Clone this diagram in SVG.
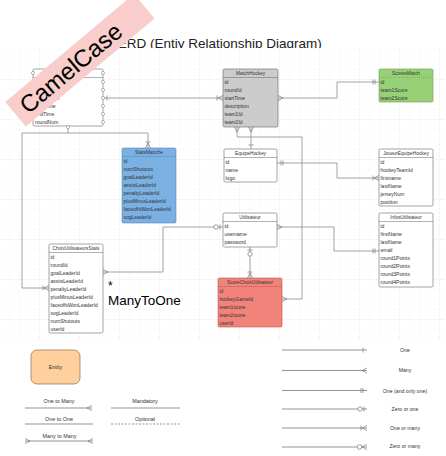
<svg xmlns="http://www.w3.org/2000/svg" width="446" height="456" viewBox="0 0 446 456">
<style>
text{font-family:"Liberation Sans",Arial,sans-serif;fill:#333}
.hd{font-size:4.8px;text-anchor:middle}
.rw{font-size:5px}
.tb{stroke:#666;stroke-width:0.6}
.sep{stroke:#666;stroke-width:0.5}
.cn{fill:none;stroke:#8c8c8c;stroke-width:0.8}
.mk{fill:none;stroke:#777;stroke-width:0.7}
.lg{fill:none;stroke:#666;stroke-width:0.7}
.lt{font-size:5.4px;text-anchor:middle}
.hc{fill:#fff;stroke:#777;stroke-width:0.5}
</style>
<defs>
<pattern id="g1" width="10" height="10" patternUnits="userSpaceOnUse"><path d="M10,0V10M0,10H10" fill="none" stroke="#e3e3e3" stroke-width="0.5" stroke-dasharray="1,1"/></pattern>
<pattern id="g2" width="40" height="40" patternUnits="userSpaceOnUse"><rect width="40" height="40" fill="url(#g1)"/><path d="M40,0V40M0,40H40" fill="none" stroke="#d4d4d4" stroke-width="0.6" stroke-dasharray="1,1"/></pattern>
<marker id="many" markerUnits="userSpaceOnUse" orient="auto-start-reverse" refX="0" refY="0" markerWidth="10" markerHeight="10" style="overflow:visible"><path class="mk" d="M-5,0L0,-2.5M-5,0L0,2.5"/></marker>
<marker id="oneMany" markerUnits="userSpaceOnUse" orient="auto-start-reverse" refX="0" refY="0" markerWidth="10" markerHeight="10" style="overflow:visible"><path class="mk" d="M-5,0L0,-2.5M-5,0L0,2.5M-6,-2.5V2.5"/></marker>
<marker id="one" markerUnits="userSpaceOnUse" orient="auto-start-reverse" refX="0" refY="0" markerWidth="10" markerHeight="10" style="overflow:visible"><path class="mk" d="M-4,-2.5V2.5"/></marker>
<marker id="mandOne" markerUnits="userSpaceOnUse" orient="auto-start-reverse" refX="0" refY="0" markerWidth="10" markerHeight="10" style="overflow:visible"><path class="mk" d="M-4,-2.5V2.5M-6,-2.5V2.5"/></marker>
<marker id="zeroOne" markerUnits="userSpaceOnUse" orient="auto-start-reverse" refX="0" refY="0" markerWidth="12" markerHeight="10" style="overflow:visible"><path class="mk" d="M-3,-2.5V2.5"/><circle cx="-7" cy="0" r="2.2" fill="#fff" stroke="#777" stroke-width="0.7"/></marker>
<marker id="zeroMany" markerUnits="userSpaceOnUse" orient="auto-start-reverse" refX="0" refY="0" markerWidth="12" markerHeight="10" style="overflow:visible"><path class="mk" d="M-5,0L0,-2.5M-5,0L0,2.5"/><circle cx="-7.5" cy="0" r="2.3" fill="#fff" stroke="#777" stroke-width="0.7"/></marker>
</defs>
<rect width="446" height="456" fill="#fff"/>
<text x="117.7" y="48" style="font-size:13.5px;fill:#222">ERD (Entiy Relationship Diagram)</text>
<rect x="0" y="48" width="446" height="292" fill="#fff"/>
<rect x="0" y="48" width="446" height="292" fill="url(#g2)"/>

<g id="connectors">
<path class="cn" d="M103,98H223" marker-start="url(#one)" marker-end="url(#oneMany)"/>
<path class="cn" d="M278,98H337V82H379" marker-start="url(#many)" marker-end="url(#mandOne)"/>
<path class="cn" d="M251,127V149" marker-start="url(#many)" marker-end="url(#one)"/>
<path class="cn" d="M237,127V137H302V299H282" marker-start="url(#many)" marker-end="url(#many)"/>
<path class="cn" d="M68,127V133H148V148" marker-end="url(#oneMany)"/>
<path class="cn" d="M68,133H22V288H49" marker-end="url(#oneMany)"/>
<path class="cn" d="M277,163H337V178H379" marker-start="url(#mandOne)" marker-end="url(#oneMany)"/>
<path class="cn" d="M223,227H163V272H103" marker-start="url(#zeroOne)" marker-end="url(#many)"/>
<path class="cn" d="M277,227H334V251H379" marker-start="url(#many)" marker-end="url(#mandOne)"/>
<path class="cn" d="M250,247V278" marker-start="url(#zeroOne)" marker-end="url(#oneMany)"/>
</g>

<g id="Manche">
<rect class="tb" x="33" y="69" width="70" height="57" rx="1.5" fill="#fff"/>
<text class="hd" x="68" y="75.2">Manche</text>
<line class="sep" x1="33" y1="77.5" x2="103" y2="77.5"/>
<text class="rw" x="35" y="83.7">id</text>
<text class="rw" x="35" y="91.7">name</text>
<text class="rw" x="35" y="99.7">description</text>
<text class="rw" x="35" y="107.7">startTime</text>
<text class="rw" x="35" y="115.7">endTime</text>
<text class="rw" x="35" y="123.7">roundNum</text>
<circle class="hc" cx="33" cy="73" r="1.6"/>
<circle class="hc" cx="103" cy="73" r="1.6"/>
<circle class="hc" cx="103" cy="82" r="1.6"/>
<circle class="hc" cx="103" cy="90" r="1.6"/>
<circle class="hc" cx="103" cy="98" r="1.6"/>
<circle class="hc" cx="103" cy="106" r="1.6"/>
<circle class="hc" cx="103" cy="114" r="1.6"/>
<circle class="hc" cx="103" cy="122" r="1.6"/>
<circle class="hc" cx="68" cy="127" r="1.6"/>
</g>

<g id="MatchHockey">
<rect class="tb" x="223" y="69" width="55" height="58" rx="1.5" fill="#cccccc"/>
<text class="hd" x="250.5" y="75.2">MatchHockey</text>
<line class="sep" x1="223" y1="77.5" x2="278" y2="77.5"/>
<text class="rw" x="224.5" y="83.7">id</text>
<text class="rw" x="224.5" y="91.7">roundId</text>
<text class="rw" x="224.5" y="99.7">startTime</text>
<text class="rw" x="224.5" y="107.7">description</text>
<text class="rw" x="224.5" y="115.7">team1Id</text>
<text class="rw" x="224.5" y="123.7">team2Id</text>
</g>

<g id="ScoresMatch">
<rect class="tb" x="379" y="69" width="54" height="33" rx="1.5" fill="#97d077" style="stroke:#6a9a4a"/>
<text class="hd" x="406" y="75.2">ScoresMatch</text>
<line class="sep" x1="379" y1="77.5" x2="433" y2="77.5" stroke-dasharray="1,1" style="stroke:#6a9a4a"/>
<text class="rw" x="380.5" y="83.7">id</text>
<text class="rw" x="380.5" y="91.7">team1Score</text>
<text class="rw" x="380.5" y="99.7">team2Score</text>
</g>

<g id="StatsManche">
<rect class="tb" x="122" y="148" width="54" height="75" rx="1.5" fill="#7ab0e2" style="stroke:#5a88b8"/>
<text class="hd" x="149" y="154.2">StatsManche</text>
<line class="sep" x1="122" y1="156.5" x2="176" y2="156.5" style="stroke:#5a88b8"/>
<text class="rw" x="123.5" y="162.7">id</text>
<text class="rw" x="123.5" y="170.7">numShutouts</text>
<text class="rw" x="123.5" y="178.7">goalLeaderId</text>
<text class="rw" x="123.5" y="186.7">assistLeaderId</text>
<text class="rw" x="123.5" y="194.7">penaltyLeaderId</text>
<text class="rw" x="123.5" y="202.7">plusMinusLeaderId</text>
<text class="rw" x="123.5" y="210.7">faceoffsWonLeaderId</text>
<text class="rw" x="123.5" y="218.7">sogLeaderId</text>
</g>

<g id="EquipeHockey">
<rect class="tb" x="224" y="149" width="53" height="33" rx="1.5" fill="#fff"/>
<text class="hd" x="250.5" y="155.2">EquipeHockey</text>
<line class="sep" x1="224" y1="157.5" x2="277" y2="157.5"/>
<text class="rw" x="225.5" y="163.7">id</text>
<text class="rw" x="225.5" y="171.7">name</text>
<text class="rw" x="225.5" y="179.7">logo</text>
</g>

<g id="JoueurEquipeHockey">
<rect class="tb" x="379" y="149" width="54" height="57" rx="1.5" fill="#fff"/>
<text class="hd" x="406" y="155.2">JoueurEquipeHockey</text>
<line class="sep" x1="379" y1="157.5" x2="433" y2="157.5"/>
<text class="rw" x="380.5" y="163.7">id</text>
<text class="rw" x="380.5" y="171.7">hockeyTeamId</text>
<text class="rw" x="380.5" y="179.7">firstname</text>
<text class="rw" x="380.5" y="187.7">lastName</text>
<text class="rw" x="380.5" y="195.7">jerseyNum</text>
<text class="rw" x="380.5" y="203.7">position</text>
</g>

<g id="Utilisateur">
<rect class="tb" x="223" y="213" width="54" height="34" rx="1.5" fill="#fff"/>
<text class="hd" x="250" y="219.2">Utilisateur</text>
<line class="sep" x1="223" y1="221.5" x2="277" y2="221.5"/>
<text class="rw" x="224.5" y="227.7">id</text>
<text class="rw" x="224.5" y="235.7">username</text>
<text class="rw" x="224.5" y="243.7">password</text>
</g>

<g id="InfosUtilisateur">
<rect class="tb" x="379" y="213" width="54" height="74" rx="1.5" fill="#fff"/>
<text class="hd" x="406" y="219.2">InfosUtilisateur</text>
<line class="sep" x1="379" y1="221.5" x2="433" y2="221.5"/>
<text class="rw" x="380.5" y="227.7">id</text>
<text class="rw" x="380.5" y="235.7">firstName</text>
<text class="rw" x="380.5" y="243.7">lastName</text>
<text class="rw" x="380.5" y="251.7">email</text>
<text class="rw" x="380.5" y="259.7">round1Points</text>
<text class="rw" x="380.5" y="267.7">round2Points</text>
<text class="rw" x="380.5" y="275.7">round3Points</text>
<text class="rw" x="380.5" y="283.7">round4Points</text>
</g>

<g id="ScoreChoixUtilisateur">
<rect class="tb" x="218" y="278" width="64" height="49" rx="1.5" fill="#f2837a" style="stroke:#b85450"/>
<text class="hd" x="250" y="284.2">ScoreChoixUtilisateur</text>
<line class="sep" x1="218" y1="286.5" x2="282" y2="286.5" style="stroke:#b85450"/>
<text class="rw" x="219.5" y="292.7">id</text>
<text class="rw" x="219.5" y="300.7">hockeyGameId</text>
<text class="rw" x="219.5" y="308.7">team1score</text>
<text class="rw" x="219.5" y="316.7">team2score</text>
<text class="rw" x="219.5" y="324.7">userId</text>
</g>

<g id="ChoixUtilisateursStats">
<rect class="tb" x="49" y="244" width="54" height="89" rx="1.5" fill="#fff"/>
<text class="hd" x="76" y="250.2">ChoixUtilisateursStats</text>
<line class="sep" x1="49" y1="252.5" x2="103" y2="252.5"/>
<text class="rw" x="50.5" y="258.7">id</text>
<text class="rw" x="50.5" y="266.7">roundId</text>
<text class="rw" x="50.5" y="274.7">goalLeaderId</text>
<text class="rw" x="50.5" y="282.7">assistLeaderId</text>
<text class="rw" x="50.5" y="290.7">penaltyLeaderId</text>
<text class="rw" x="50.5" y="298.7">plusMinusLeaderId</text>
<text class="rw" x="50.5" y="306.7">faceoffsWonLeaderId</text>
<text class="rw" x="50.5" y="314.7">sogLeaderId</text>
<text class="rw" x="50.5" y="322.7">numShutouts</text>
<text class="rw" x="50.5" y="330.7">userId</text>
</g>

<text x="108" y="290" style="font-size:12px;fill:#000">*</text>
<text x="108" y="305" style="font-size:13.5px;fill:#000">ManyToOne</text>

<g id="legend">
<rect x="31" y="350" width="49" height="34" rx="6" fill="#ffd09e" stroke="#8c6d46" stroke-width="0.7"/>
<text class="lt" x="55.5" y="369">Entity</text>
<text class="lt" x="59" y="403">One to Many</text>
<path class="lg" d="M25,408H92" marker-end="url(#many)"/>
<text class="lt" x="145" y="403">Mandatory</text>
<path class="lg" d="M111,408H180"/>
<text class="lt" x="59" y="420.5">One to One</text>
<path class="lg" d="M25,424H93"/>
<text class="lt" x="145" y="420.5">Optional</text>
<path class="lg" d="M111,424H180" stroke-dasharray="2,1.5"/>
<text class="lt" x="59.5" y="437.5">Many to Many</text>
<path class="lg" d="M25,441H93" marker-start="url(#many)" marker-end="url(#many)"/>

<path class="lg" d="M282,350H367" marker-end="url(#one)"/>
<text class="lt" x="405" y="352" style="font-size:5.2px">One</text>
<path class="lg" d="M282,370.5H367" marker-end="url(#many)"/>
<text class="lt" x="405" y="372.3" style="font-size:5.2px">Many</text>
<path class="lg" d="M282,390.5H367" marker-end="url(#mandOne)"/>
<text class="lt" x="405" y="392.5" style="font-size:5.2px">One (and only one)</text>
<path class="lg" d="M282,409H367" marker-end="url(#zeroOne)"/>
<text class="lt" x="405" y="410.7" style="font-size:5.2px">Zero or one</text>
<path class="lg" d="M282,428H367" marker-end="url(#oneMany)"/>
<text class="lt" x="405" y="429.7" style="font-size:5.2px">One or many</text>
<path class="lg" d="M282,447H367" marker-end="url(#zeroMany)"/>
<text class="lt" x="405" y="447.5" style="font-size:5.2px">Zero or many</text>
</g>

<g id="banner" transform="translate(73,66) rotate(-40)">
<rect x="-75" y="-16" width="168" height="32" fill="#f8cdcb"/>
<text x="-3" y="8.5" text-anchor="middle" style="font-size:24px;fill:#000">CamelCase</text>
</g>
</svg>
